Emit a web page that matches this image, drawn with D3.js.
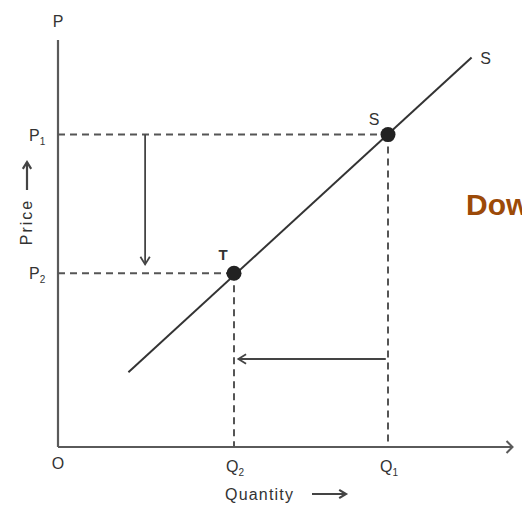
<!DOCTYPE html>
<html>
<head>
<meta charset="utf-8">
<style>
  body { margin: 0; background: #fff; }
  text { font-family: "Liberation Sans", Arial, sans-serif; fill: #333; }
</style>
</head>
<body>
<div id="chart"></div>
<script src="https://d3js.org/d3.v7.min.js"></script>
<script>
// points on the supply curve
var pointNames = ["S", "T"];
var pointQty = [7.5, 4.0];
var pointPrice = [7.1, 3.95];
// tick labels
var qtyLabels = ["Q2", "Q1"];
var priceLabels = ["P1", "P2"];
// supply line ends
var supplyQty = [1.6, 9.4];
var supplyPrice = [1.7, 8.85];

var width = 522, height = 506;

var svg = d3.select("#chart").append("svg")
  .attr("width", width)
  .attr("height", height);

var x = d3.scaleLinear().domain([0, 10]).range([58, 498]);
var y = d3.scaleLinear().domain([0, 10]).range([447, 7]);

var axisCol = "#5a5a5a";
var dash = "7,5";

// axes
svg.append("line")
  .attr("x1", x(0)).attr("y1", y(0))
  .attr("x2", x(0)).attr("y2", y(9.25))
  .attr("stroke", axisCol).attr("stroke-width", 2.2);
svg.append("line")
  .attr("x1", x(0)).attr("y1", y(0))
  .attr("x2", x(10.33)).attr("y2", y(0))
  .attr("stroke", axisCol).attr("stroke-width", 2.2);
svg.append("path")
  .attr("d", "M" + (x(10.33) - 6) + "," + (y(0) - 6) + "L" + x(10.33) + "," + y(0) + "L" + (x(10.33) - 6) + "," + (y(0) + 6))
  .attr("fill", "none").attr("stroke", axisCol).attr("stroke-width", 2);

// dashed guides
var pts = pointNames.map(function(n, i) { return {name: n, q: pointQty[i], p: pointPrice[i]}; });
svg.selectAll(".hguide").data(pts).enter().append("line")
  .attr("x1", x(0)).attr("y1", function(d) { return y(d.p); })
  .attr("x2", function(d) { return x(d.q); }).attr("y2", function(d) { return y(d.p); })
  .attr("stroke", "#555").attr("stroke-width", 2).attr("stroke-dasharray", dash);
svg.selectAll(".vguide").data(pts).enter().append("line")
  .attr("x1", function(d) { return x(d.q); }).attr("y1", function(d) { return y(d.p); })
  .attr("x2", function(d) { return x(d.q); }).attr("y2", y(0))
  .attr("stroke", "#555").attr("stroke-width", 2).attr("stroke-dasharray", dash);

// supply line
svg.append("line")
  .attr("x1", x(supplyQty[0])).attr("y1", y(supplyPrice[0]))
  .attr("x2", x(supplyQty[1])).attr("y2", y(supplyPrice[1]))
  .attr("stroke", "#333").attr("stroke-width", 2);

// arrows
function arrow(x1, y1, x2, y2, s, w) {
  s = s || 9; w = w || 1.8;
  svg.append("line").attr("x1", x1).attr("y1", y1).attr("x2", x2).attr("y2", y2)
    .attr("stroke", "#444").attr("stroke-width", w);
  var a = Math.atan2(y2 - y1, x2 - x1);
  svg.append("path")
    .attr("d", "M" + (x2 - s * Math.cos(a - 0.55)) + "," + (y2 - s * Math.sin(a - 0.55)) +
      "L" + x2 + "," + y2 + "L" + (x2 - s * Math.cos(a + 0.55)) + "," + (y2 - s * Math.sin(a + 0.55)))
    .attr("fill", "none").attr("stroke", "#444").attr("stroke-width", w);
}
arrow(x(1.98), y(pointPrice[0]), x(1.98), y(pointPrice[1] + 0.2));
arrow(x(pointQty[0] - 0.05), y(2.0), x(pointQty[1] + 0.1), y(2.0));

// points
svg.selectAll(".pt").data(pts).enter().append("circle")
  .attr("cx", function(d) { return x(d.q); })
  .attr("cy", function(d) { return y(d.p); })
  .attr("r", 7.5).attr("fill", "#222");

// point labels
svg.append("text").attr("x", x(pointQty[0]) - 14).attr("y", y(pointPrice[0]) - 10)
  .attr("text-anchor", "middle").attr("font-size", 16).text(pointNames[0]);
svg.append("text").attr("x", x(pointQty[1]) - 11).attr("y", y(pointPrice[1]) - 13)
  .attr("text-anchor", "middle").attr("font-size", 15).attr("font-weight", "bold").text(pointNames[1]);
svg.append("text").attr("x", x(supplyQty[1]) + 14).attr("y", y(supplyPrice[1]) + 6)
  .attr("text-anchor", "middle").attr("font-size", 16).text("S");

// price / quantity tick labels
function subLabel(tx, ty, s) {
  var t = svg.append("text").attr("x", tx).attr("y", ty).attr("font-size", 16);
  t.append("tspan").text(s[0]);
  t.append("tspan").attr("font-size", 10).attr("dy", 4).text(s.slice(1));
  return t;
}
subLabel(29, y(pointPrice[0]) + 6, priceLabels[0]);
subLabel(29, y(pointPrice[1]) + 6, priceLabels[1]);
subLabel(x(pointQty[1]) - 8, y(0) + 25, qtyLabels[0]);
subLabel(x(pointQty[0]) - 8, y(0) + 25, qtyLabels[1]);

svg.append("text").attr("x", x(0)).attr("y", y(0) + 22)
  .attr("text-anchor", "middle").attr("font-size", 16).text("O");
svg.append("text").attr("x", x(0)).attr("y", 27)
  .attr("text-anchor", "middle").attr("font-size", 16).text("P");

// axis titles with drawn arrows
svg.append("text")
  .attr("transform", "translate(32,222) rotate(-90)")
  .attr("text-anchor", "middle").attr("font-size", 16)
  .attr("letter-spacing", 2).text("Price");
arrow(27, 190, 27, 162, 8, 2.2);
svg.append("text").attr("x", 225).attr("y", 500)
  .attr("font-size", 16).attr("letter-spacing", 1.2).text("Quantity");
arrow(312, 494, 346, 494, 8, 2.2);

// heading fragment
svg.append("text").attr("x", 466).attr("y", 215)
  .attr("font-family", "'Open Sans', sans-serif")
  .attr("font-weight", "bold").attr("font-size", 30)
  .style("fill", "#9c4a08").text("Dow");
</script>
</body>
</html>
